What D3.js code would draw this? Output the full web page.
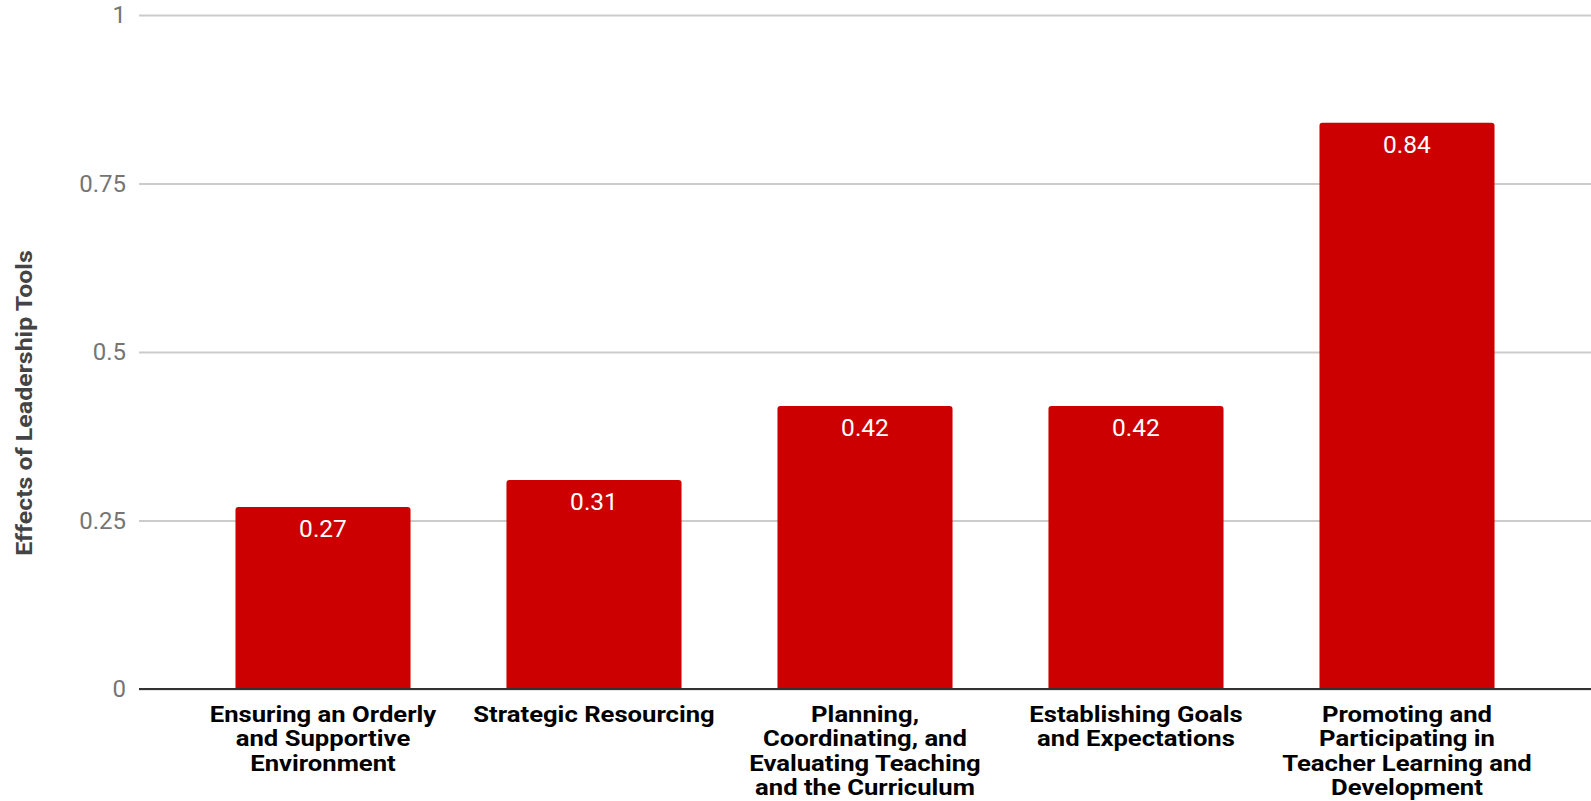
<!DOCTYPE html>
<html>
<head>
<meta charset="utf-8">
<script src="https://cdn.jsdelivr.net/npm/d3@7"></script>
<style>
    html, body { margin: 0; padding: 0; background: #fff; }
    svg { display: block; font-family: Roboto, sans-serif; }
</style>
</head>
<body>
<div id="chart"></div>
<script>
const categories = [
    `Ensuring an Orderly and Supportive Environment`,
    `Strategic Resourcing`,
    `Planning, Coordinating, and Evaluating Teaching and the Curriculum`,
    `Establishing Goals and Expectations`,
    `Promoting and Participating in Teacher Learning and Development`
]
const values = [0.27, 0.31, 0.42, 0.42, 0.84]
const yTicks = [0, 0.25, 0.5, 0.75, 1]
const yTitle = `Effects of Leadership Tools`

const width = 1591,
    height = 801,
    margin = { top: 15, right: 0, bottom: 112, left: 139 }

// the bold labels in the source are a bit wider than plain Roboto bold
const stretch = 1.14

const svg = d3.select(`#chart`).append(`svg`)
    .attr(`width`, width)
    .attr(`height`, height)

const x = d3.scaleBand()
    .domain(categories)
    .range([margin.left, width - margin.right])
    .paddingInner(0.354)
    .paddingOuter(0.356)

const y = d3.scaleLinear()
    .domain([0, 1])
    .range([height - margin.bottom, margin.top])

// gridlines + tick labels
const yAxis = svg.append(`g`)
    .attr(`transform`, `translate(${margin.left},0)`)
    .call(d3.axisLeft(y).tickValues(yTicks).tickFormat(d => String(d)).tickSize(-(width - margin.left - margin.right)).tickPadding(13))

yAxis.select(`.domain`).remove()
yAxis.selectAll(`.tick line`).attr(`stroke`, `#cccccc`).attr(`stroke-width`, 2)
yAxis.selectAll(`.tick text`)
    .attr(`fill`, `#757575`)
    .attr(`font-size`, 24)
    .attr(`font-family`, `Roboto, sans-serif`)

// bars
svg.append(`g`).selectAll(`path`)
    .data(values)
    .join(`path`)
    .attr(`fill`, `#cc0000`)
    .attr(`d`, (d, i) => {
        const x0 = x(categories[i]), w = x.bandwidth(), y0 = y(d), y1 = y(0), r = 3
        return `M${x0},${y1}V${y0 + r}Q${x0},${y0} ${x0 + r},${y0}H${x0 + w - r}Q${x0 + w},${y0} ${x0 + w},${y0 + r}V${y1}Z`
    })

// value labels
svg.append(`g`).selectAll(`text`)
    .data(values)
    .join(`text`)
    .attr(`x`, (d, i) => x(categories[i]) + x.bandwidth() / 2)
    .attr(`y`, d => y(d) + 30)
    .attr(`text-anchor`, `middle`)
    .attr(`fill`, `#fff`)
    .attr(`font-size`, 24.5)
    .text(d => d.toFixed(2))

// baseline
svg.append(`line`)
    .attr(`x1`, margin.left).attr(`x2`, width - margin.right)
    .attr(`y1`, y(0)).attr(`y2`, y(0))
    .attr(`stroke`, `#333`)
    .attr(`stroke-width`, 2)

// category labels, wrapped
const wrapWidth = 255
const catLabels = svg.append(`g`).selectAll(`text`)
    .data(categories)
    .join(`text`)
    .attr(`transform`, d => `translate(${x(d) + x.bandwidth() / 2},${y(0) + 33}) scale(${stretch},1)`)
    .attr(`text-anchor`, `middle`)
    .attr(`fill`, `#000`)
    .attr(`font-size`, 22.5)
    .attr(`font-weight`, `bold`)

catLabels.each(function(d) {
    const text = d3.select(this),
        words = d.split(` `)
    let line = [],
        tspan = text.append(`tspan`).attr(`x`, 0).attr(`dy`, 0)

    for(const word of words) {
        line.push(word)
        tspan.text(line.join(` `))
        if(tspan.node().getComputedTextLength() * stretch > wrapWidth && line.length > 1) {
            line.pop()
            tspan.text(line.join(` `))
            line = [word]
            tspan = text.append(`tspan`).attr(`x`, 0).attr(`dy`, 24.5).text(word)
        }
    }
})

// y title
svg.append(`text`)
    .attr(`transform`, `translate(32,403) rotate(-90) scale(${stretch - 0.03},1)`)
    .attr(`text-anchor`, `middle`)
    .attr(`fill`, `#444`)
    .attr(`font-size`, 22.5)
    .attr(`font-weight`, `bold`)
    .text(yTitle)
</script>
</body>
</html>
